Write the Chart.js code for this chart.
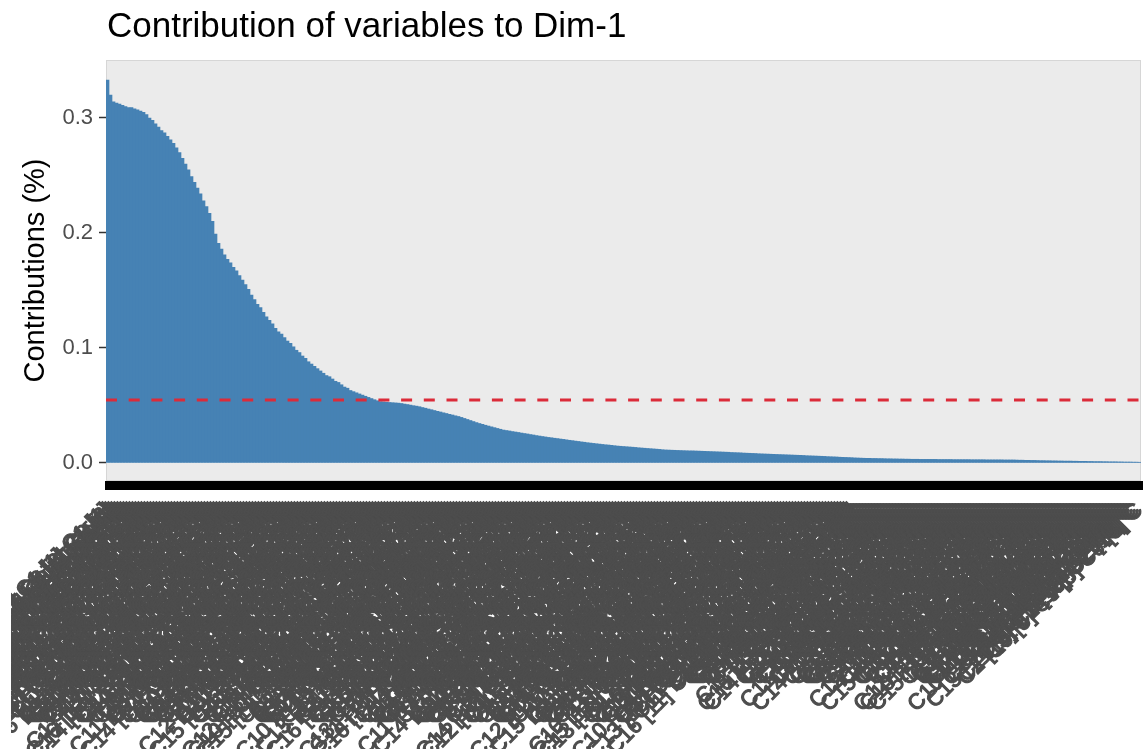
<!DOCTYPE html>
<html>
<head>
<meta charset="utf-8">
<script src="https://cdn.jsdelivr.net/npm/chart.js@4.4.1/dist/chart.umd.min.js"></script>
<style>
  html, body { margin: 0; padding: 0; background: #fff; }
  #wrap { position: absolute; left: 11px; top: 0; width: 1132px; height: 749px; }
</style>
</head>
<body>
<div id="wrap"><canvas id="contrib" width="1132" height="749"></canvas></div>
<script>
// contributions (%) to Dim-1, sorted
var contrib = [
  0.333,0.320,0.314,0.313,0.312,0.311,0.310,0.309,0.309,0.308,
  0.307,0.306,0.305,0.303,0.300,0.298,0.295,0.292,0.289,0.287,
  0.284,0.281,0.278,0.274,0.270,0.265,0.260,0.255,0.249,0.244,
  0.239,0.234,0.228,0.223,0.217,0.210,0.199,0.191,0.186,0.181,
  0.177,0.174,0.170,0.167,0.163,0.159,0.155,0.151,0.146,0.142,
  0.138,0.135,0.131,0.127,0.124,0.121,0.117,0.114,0.112,0.109,
  0.106,0.104,0.101,0.098,0.096,0.093,0.091,0.088,0.086,0.084,
  0.082,0.080,0.078,0.076,0.075,0.073,0.071,0.070,0.068,0.066,
  0.065,0.063,0.062,0.061,0.060,0.059,0.058,0.057,0.056,0.055,
  0.0541,0.0533,0.0531,0.0528,0.0526,0.0524,0.0522,0.0520,0.0517,0.0512,
  0.0508,0.0503,0.0498,0.0494,0.0489,0.0482,0.0476,0.0469,0.0463,0.0456,
  0.0449,0.0443,0.0436,0.0430,0.0423,0.0417,0.0410,0.0404,0.0396,0.0387,
  0.0378,0.0369,0.0360,0.0351,0.0343,0.0336,0.0328,0.0321,0.0314,0.0307,
  0.0300,0.0293,0.0286,0.0282,0.0278,0.0273,0.0269,0.0265,0.0260,0.0256,
  0.0252,0.0247,0.0243,0.0238,0.0234,0.0230,0.0226,0.0222,0.0219,0.0215,
  0.0212,0.0208,0.0205,0.0201,0.0197,0.0194,0.0190,0.0187,0.0183,0.0180,
  0.0176,0.0173,0.0170,0.0167,0.0164,0.0161,0.0158,0.0156,0.0153,0.0150,
  0.0147,0.0145,0.0143,0.0141,0.0139,0.0137,0.0135,0.0132,0.0130,0.0128,
  0.0126,0.0124,0.0122,0.0120,0.0118,0.0115,0.0113,0.0112,0.0111,0.0110,
  0.0109,0.0108,0.0107,0.0106,0.0105,0.0105,0.0104,0.0103,0.0102,0.0101,
  0.0100,0.0099,0.0098,0.0097,0.0096,0.0095,0.0094,0.0093,0.0091,0.0090,
  0.0089,0.0088,0.0086,0.0085,0.0084,0.0083,0.0082,0.0080,0.0079,0.0078,
  0.0077,0.0076,0.0075,0.0074,0.0073,0.0072,0.0071,0.0070,0.0069,0.0068,
  0.0067,0.0066,0.0065,0.0063,0.0062,0.0061,0.0060,0.0059,0.0058,0.0057,
  0.0055,0.0054,0.0053,0.0052,0.0050,0.0049,0.0048,0.0047,0.0046,0.0044,
  0.0043,0.0042,0.0041,0.0040,0.0040,0.0039,0.0039,0.0038,0.0038,0.0037,
  0.0036,0.0036,0.0035,0.0035,0.0034,0.0034,0.0033,0.0033,0.0032,0.0032,
  0.0032,0.0031,0.0031,0.0031,0.0031,0.0031,0.0031,0.0030,0.0030,0.0030,
  0.0030,0.0030,0.0029,0.0029,0.0029,0.0029,0.0029,0.0029,0.0028,0.0028,
  0.0028,0.0028,0.0028,0.0027,0.0027,0.0027,0.0027,0.0027,0.0027,0.0026,
  0.0026,0.0026,0.0026,0.0025,0.0024,0.0024,0.0023,0.0023,0.0022,0.0022,
  0.0021,0.0020,0.0020,0.0019,0.0019,0.0018,0.0018,0.0017,0.0017,0.0016,
  0.0016,0.0016,0.0015,0.0015,0.0014,0.0014,0.0014,0.0013,0.0013,0.0012,
  0.0012,0.0012,0.0011,0.0011,0.0010,0.0010,0.0010,0.0009,0.0009,0.0008,
  0.0008,0.0008,0.0007,0.0007,0.0006
];
// expected average contribution (red dashed line)
var expectedContrib = 0.0548;
var yTicks = [0.0, 0.1, 0.2, 0.3];

// variable / level codes seen in the (overlapping) axis labels
var varCodes = ['C1','C2','C3','C4','C5','C6','C7','C8','C9','C10','C11','C12','C13','C14','C15','C16'];
var levelCodes = ['1','2','3','4','5','6','7','8','9','10','11','12','13'];

var labels = contrib.map(function (v, i) {
  var vc = varCodes[(i * 7) % varCodes.length];
  var code = vc + ' [' + levelCodes[(i * 5) % levelCodes.length] + ']';
  // labels towards the right are a little shorter in the original
  return i < 250 ? [code, code, code, code].join(' ') : [code, code, code, 'C'].join(' ');
});

var FONT = "'Liberation Sans', Arial, sans-serif";

var panelPlugin = {
  id: 'panel',
  beforeDraw: function (chart) {
    var a = chart.chartArea, ctx = chart.ctx;
    ctx.save();
    ctx.fillStyle = '#EBEBEB';
    ctx.fillRect(a.left, a.top, a.right - a.left, a.bottom - a.top);
    ctx.strokeStyle = '#D6D6D6';
    ctx.lineWidth = 1;
    ctx.strokeRect(a.left + 0.5, a.top + 0.5, a.right - a.left - 1, a.bottom - a.top - 1);
    ctx.restore();
  },
  afterDatasetsDraw: function (chart) {
    var a = chart.chartArea, ctx = chart.ctx;
    var y = chart.scales.y.getPixelForValue(expectedContrib);
    ctx.save();
    ctx.strokeStyle = '#DB2B39';
    ctx.lineWidth = 3;
    ctx.setLineDash([11, 11.7]);
    ctx.beginPath();
    ctx.moveTo(a.left, y);
    ctx.lineTo(a.right, y);
    ctx.stroke();
    ctx.restore();
  },
  afterDraw: function (chart) {
    var ctx = chart.ctx;
    ctx.save();
    ctx.fillStyle = '#000';
    ctx.font = '35px ' + FONT;
    ctx.textBaseline = 'alphabetic';
    ctx.fillText('Contribution of variables to Dim-1', chart.chartArea.left + 1, 37);
    ctx.restore();
  }
};

new Chart(document.getElementById('contrib').getContext('2d'), {
  type: 'bar',
  data: {
    labels: labels,
    datasets: [{
      data: contrib,
      backgroundColor: '#4682B4',
      borderWidth: 0,
      barPercentage: 1,
      categoryPercentage: 1
    }]
  },
  options: {
    responsive: false,
    animation: false,
    layout: { padding: { top: 60, right: 2, left: 0, bottom: 0 } },
    plugins: { legend: { display: false }, tooltip: { enabled: false }, title: { display: false } },
    scales: {
      x: {
        border: { display: false },
        grid: { drawOnChartArea: false, drawTicks: true, tickLength: 9, tickWidth: 3, tickColor: '#000' },
        ticks: {
          autoSkip: false, minRotation: 45, maxRotation: 45, padding: 8,
          color: '#4D4D4D', textStrokeColor: '#4D4D4D', textStrokeWidth: 1.2,
          font: { family: FONT, size: 22 }
        },
        afterFit: function (s) { s.height = 268; s.paddingLeft = 0; s.paddingRight = 0; }
      },
      y: {
        min: -0.0157,
        max: 0.3504,
        border: { display: false },
        grid: { drawOnChartArea: false, drawTicks: true, tickLength: 7, tickWidth: 1.5, tickColor: '#333' },
        afterBuildTicks: function (s) { s.ticks = yTicks.map(function (v) { return { value: v }; }); },
        ticks: {
          padding: 6, color: '#4D4D4D', font: { family: FONT, size: 22 },
          callback: function (v) { return v.toFixed(1); }
        },
        title: {
          display: true, text: 'Contributions (%)', color: '#000',
          font: { family: FONT, size: 29 }, padding: { top: 8, bottom: 0 }
        },
        afterFit: function (s) { s.width = 95; s.paddingTop = 0; s.paddingBottom = 0; }
      }
    }
  },
  plugins: [panelPlugin]
});
</script>
</body>
</html>
